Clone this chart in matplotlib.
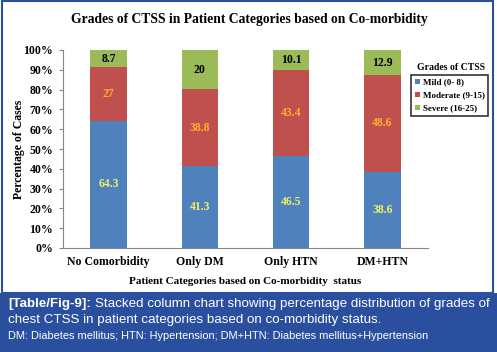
import matplotlib.pyplot as plt
from matplotlib.patches import Rectangle
import numpy as np

categories = ["No Comorbidity", "Only DM", "Only HTN", "DM+HTN"]
mild = [64.3, 41.3, 46.5, 38.6]
moderate = [27, 38.8, 43.4, 48.6]
severe = [8.7, 20, 10.1, 12.9]
series_names = ["Mild (0- 8)", "Moderate (9-15)", "Severe (16-25)"]
yticks = [0, 10, 20, 30, 40, 50, 60, 70, 80, 90, 100]

W, H = 497, 352
blue_band = "#2b4f9f"
colors = ["#4f81bd", "#c0504d", "#9bbb59"]
label_colors = ["#f0f060", "#ffb02e", "#000000"]
serif = ["Liberation Serif", "DejaVu Serif"]
sans = ["Liberation Sans", "DejaVu Sans"]

fig = plt.figure(figsize=(W / 100, H / 100), dpi=100)

# caption band and chart frame
fig.add_artist(Rectangle((0, 0), 1, 59 / H, transform=fig.transFigure,
                         facecolor=blue_band, edgecolor="none", zorder=-2))
fig.add_artist(Rectangle((1.5 / W, 59 / H), 491.5 / W, 292 / H, transform=fig.transFigure,
                         facecolor="none", edgecolor=blue_band, linewidth=1.5, zorder=-2))

ax = fig.add_axes([63 / W, (H - 248) / H, 365 / W, 198 / H])
ax.patch.set_alpha(0)
x = np.arange(len(categories))
width = 0.4
bottom = np.zeros(len(categories))
for vals, name, c, lc in zip([mild, moderate, severe], series_names, colors, label_colors):
    vals = np.array(vals, dtype=float)
    ax.bar(x, vals, width, bottom=bottom, color=c, label=name)
    for xi, b, v in zip(x, bottom, vals):
        ax.text(xi, b + v / 2, f"{v:g}", ha="center", va="center", color=lc,
                fontsize=8.5, fontweight="bold", family=serif)
    bottom += vals

ax.set_xlim(-0.5, 3.5)
ax.set_ylim(0, 100)
ax.set_yticks(yticks)
ax.set_yticklabels([f"{t}%" for t in yticks], fontsize=8.5, fontweight="bold", family=serif)
ax.set_xticks(x)
ax.set_xticklabels(categories, fontsize=8.5, fontweight="bold", family=serif)
ax.tick_params(axis="x", length=0, pad=6)
ax.tick_params(axis="y", length=3, color="#888888", pad=4)
for s in ["top", "right"]:
    ax.spines[s].set_visible(False)
ax.spines["left"].set_color("#888888")
ax.spines["bottom"].set_color("#888888")
ax.set_xlabel("Patient Categories based on Co-morbidity  status", fontsize=8, fontweight="bold",
              family=serif, labelpad=6)
fig.text(19 / W, 1 - 149 / H, "Percentage of Cases", rotation=90, ha="center", va="center",
         fontsize=8.5, fontweight="bold", family=serif)

fig.text(249 / W, 1 - 19 / H, "Grades of CTSS in Patient Categories based on Co-morbidity",
         ha="center", va="center", fontsize=9.8, fontweight="bold", family=serif)

fig.text(451 / W, 1 - 67 / H, "Grades of CTSS", ha="center", va="center",
         fontsize=7, fontweight="bold", family=serif)
leg = fig.legend(loc="upper left", bbox_to_anchor=(411 / W, 1 - 75 / H), borderaxespad=0,
                 prop={"family": serif, "weight": "bold", "size": 6.5},
                 handlelength=0.6, handleheight=0.6, handletextpad=0.3,
                 labelspacing=0.55, borderpad=0.4, fancybox=False, frameon=True)
leg.get_frame().set_edgecolor("black")
leg.get_frame().set_linewidth(1.2)

# caption text
fig.canvas.draw()
r = fig.canvas.get_renderer()
t1 = fig.text(8 / W, 1 - 304 / H, "[Table/Fig-9]:", color="white", fontsize=9.6,
              fontweight="bold", family=sans, va="center")
bb = t1.get_window_extent(r)
fig.text((bb.x1 + 4) / W, 1 - 304 / H,
         "Stacked column chart showing percentage distribution of grades of",
         color="white", fontsize=9.6, family=sans, va="center")
fig.text(8 / W, 1 - 320 / H, "chest CTSS in patient categories based on co-morbidity status.",
         color="white", fontsize=9.6, family=sans, va="center")
fig.text(8 / W, 1 - 336 / H,
         "DM: Diabetes mellitus; HTN: Hypertension; DM+HTN: Diabetes mellitus+Hypertension",
         color="white", fontsize=7.9, family=sans, va="center")

fig.savefig("out.png", dpi=100)
